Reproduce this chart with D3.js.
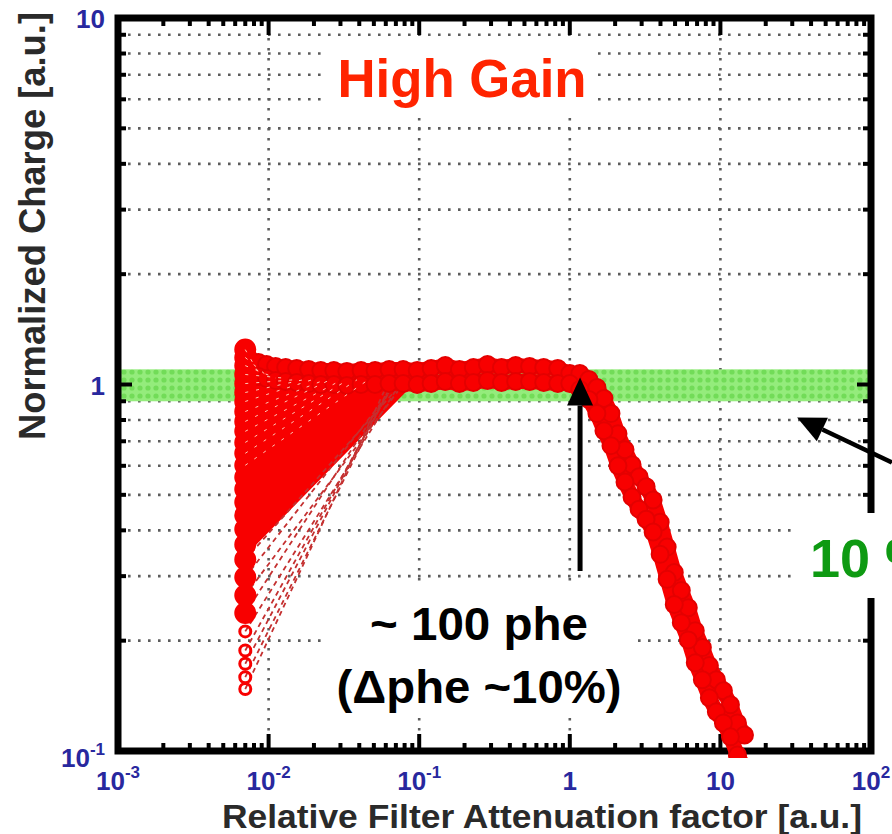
<!DOCTYPE html>
<html>
<head>
<meta charset="utf-8">
<script src="https://cdn.jsdelivr.net/npm/d3@7"></script>
<style>
html, body { margin: 0; padding: 0; background: #fff; }
svg { display: block; font-family: "Liberation Sans", Arial, Helvetica, sans-serif; }
</style>
</head>
<body>
<svg id="chart" width="892" height="834"></svg>
<script>
// main response band (upper and lower edge of the pixel curves)
const bandX = [0.00858, 0.0097, 0.01113, 0.01298, 0.01537, 0.01848, 0.02222, 0.02712, 0.0331, 0.0411,
    0.0509, 0.0631, 0.0782, 0.097, 0.12, 0.149, 0.185, 0.229, 0.284, 0.352,
    0.437, 0.541, 0.671, 0.832, 1.0, 1.166, 1.339, 1.514, 1.686, 1.877,
    2.089, 2.326, 2.59, 2.884, 3.211, 3.575, 3.981, 4.43, 4.94, 5.5,
    6.12, 6.81, 7.59, 8.45, 9.4, 10.47, 11.66, 12.98, 14.45];
const bandHi = [1.149, 1.134, 1.120, 1.113, 1.106, 1.099, 1.092, 1.092, 1.085, 1.092,
    1.092, 1.099, 1.099, 1.092, 1.106, 1.127, 1.099, 1.113, 1.134, 1.113,
    1.127, 1.120, 1.113, 1.106, 1.072, 1.072, 1.032, 0.981, 0.916, 0.833,
    0.734, 0.664, 0.604, 0.560, 0.526, 0.484, 0.421, 0.360, 0.307, 0.274,
    0.246, 0.213, 0.1915, 0.171, 0.1565, 0.146, 0.1337, 0.1193, 0.1106];
const bandLo = [1.052, 1.039, 1.026, 1.019, 1.013, 1.006, 1.000, 1.000, 0.994, 1.000,
    1.000, 1.006, 1.006, 1.000, 1.006, 1.019, 1.006, 1.013, 1.026, 1.013,
    1.019, 1.019, 1.013, 1.006, 1.006, 0.969, 0.910, 0.833, 0.748, 0.681,
    0.600, 0.542, 0.493, 0.457, 0.429, 0.396, 0.344, 0.294, 0.251, 0.224,
    0.201, 0.174, 0.1565, 0.1397, 0.1279, 0.1193, 0.1093, 0.0975, 0.0904];

// pixels that start low at the smallest attenuation and join the plateau later
const fanColumnX = 0.0070;
const fanStartY = [1.245, 1.185, 1.126, 1.065, 1.006, 0.951, 0.899, 0.844, 0.793, 0.745,
    0.695, 0.649, 0.602, 0.558, 0.518, 0.477, 0.440, 0.403, 0.366,
    0.333, 0.298, 0.266, 0.238, 0.212, 0.188, 0.173, 0.159, 0.1476];
const fanEndX = [0.00877, 0.00991, 0.0112, 0.01285, 0.01475, 0.01692, 0.01942, 0.02228, 0.02557, 0.02934,
    0.03367, 0.03864, 0.04434, 0.05012, 0.05662, 0.06302, 0.06907, 0.07457, 0.08049,
    0.0769, 0.0723, 0.0793, 0.0701, 0.0750, 0.0690, 0.0660, 0.0670, 0.0621];
const fanEndY = [1.06, 1.05, 1.04, 1.04, 1.03, 1.03, 1.03, 1.02, 1.03, 1.02,
    1.03, 1.03, 1.02, 1.03, 1.02, 1.02, 1.03, 1.02, 1.02,
    1.01, 1.02, 1.01, 1.02, 1.01, 1.02, 1.01, 1.02, 1.01];

// +-10 % band
const okBand = [0.9, 1.1];

const xTicks = [0.001, 0.01, 0.1, 1, 10, 100];
const xTickBase = ["10", "10", "10", "1", "10", "10"];
const xTickSup = ["-3", "-2", "-1", "", "", "2"];
const yTicks = [0.1, 1, 10];
const yTickBase = ["10", "1", "10"];
const yTickSup = ["-1", "", ""];

// annotation arrows, data coordinates [x, y] tail -> tip
const arrowPhe = [[1.17, 0.31], [1.17, 1.045]];
const arrowBand = [[137.7, 0.613], [32.3, 0.813]];

const svg = d3.select("#chart");
const plot = { left: 118, right: 871, top: 18, bottom: 751 };

const x = d3.scaleLog().domain([1e-3, 1e2]).range([plot.left, plot.right]);
const y = d3.scaleLog().domain([0.1, 10]).range([plot.bottom, plot.top]);

const red = "#f80000";
const defs = svg.append("defs");

defs.append("clipPath").attr("id", "plot-clip")
    .append("rect")
    .attr("x", plot.left).attr("y", plot.top)
    .attr("width", plot.right - plot.left)
    .attr("height", plot.bottom - plot.top + 7);

const pat = defs.append("pattern")
    .attr("id", "green-dots")
    .attr("patternUnits", "userSpaceOnUse")
    .attr("width", 8).attr("height", 8);
pat.append("rect").attr("width", 8).attr("height", 8).attr("fill", "#94ec7c");
pat.append("circle").attr("cx", 4).attr("cy", 4).attr("r", 2.6).attr("fill", "#72dc58");

// grid
const grid = svg.append("g").attr("class", "grid")
    .attr("stroke", "#5c5c5c")
    .attr("stroke-width", 2.6)
    .attr("stroke-dasharray", "2.6,7.4");

grid.selectAll("line.h")
    .data(y.ticks().filter(v => v > 0.1 * 1.001 && v < 10 * 0.999))
    .join("line")
    .attr("class", "h")
    .attr("x1", plot.left).attr("x2", plot.right)
    .attr("y1", d => y(d)).attr("y2", d => y(d));

grid.selectAll("line.v")
    .data(xTicks.slice(1, -1))
    .join("line")
    .attr("class", "v")
    .attr("x1", d => x(d)).attr("x2", d => x(d))
    .attr("y1", plot.top).attr("y2", plot.bottom);

// green band
svg.append("rect")
    .attr("x", plot.left)
    .attr("y", y(okBand[1]))
    .attr("width", plot.right - plot.left)
    .attr("height", y(okBand[0]) - y(okBand[1]))
    .attr("fill", "url(#green-dots)");

// axes frame + ticks
const axes = svg.append("g").attr("class", "axes");

axes.append("rect")
    .attr("x", plot.left).attr("y", plot.top)
    .attr("width", plot.right - plot.left)
    .attr("height", plot.bottom - plot.top)
    .attr("fill", "none")
    .attr("stroke", "#000")
    .attr("stroke-width", 7);

const isDecade = v => Math.abs(Math.log10(v) - Math.round(Math.log10(v))) < 1e-6;

const yt = y.ticks();
axes.selectAll("line.yl")
    .data(yt)
    .join("line")
    .attr("class", "yl")
    .attr("x1", plot.left).attr("x2", d => plot.left + (isDecade(d) ? 14 : 8))
    .attr("y1", d => y(d)).attr("y2", d => y(d))
    .attr("stroke", "#000").attr("stroke-width", 4);

axes.selectAll("line.yr")
    .data(yt)
    .join("line")
    .attr("class", "yr")
    .attr("x1", plot.right).attr("x2", d => plot.right - (isDecade(d) ? 14 : 8))
    .attr("y1", d => y(d)).attr("y2", d => y(d))
    .attr("stroke", "#000").attr("stroke-width", 4);

const xt = x.ticks();
axes.selectAll("line.xb")
    .data(xt)
    .join("line")
    .attr("class", "xb")
    .attr("x1", d => x(d)).attr("x2", d => x(d))
    .attr("y1", plot.bottom).attr("y2", d => plot.bottom - (isDecade(d) ? 17 : 8))
    .attr("stroke", "#000").attr("stroke-width", 4);

axes.selectAll("line.xt")
    .data(xt)
    .join("line")
    .attr("class", "xt")
    .attr("x1", d => x(d)).attr("x2", d => x(d))
    .attr("y1", plot.top).attr("y2", d => plot.top + (isDecade(d) ? 17 : 8))
    .attr("stroke", "#000").attr("stroke-width", 4);

// tick labels
const tickColor = "#28289e";

const xl = svg.append("g")
    .attr("font-weight", "bold").attr("font-size", 26)
    .attr("fill", tickColor).attr("text-anchor", "middle");

xTicks.forEach((v, i) => {
    const t = xl.append("text").attr("x", x(v)).attr("y", 790);
    t.append("tspan").text(xTickBase[i]);
    if (xTickSup[i])
        t.append("tspan").attr("font-size", 17).attr("dy", -12).text(xTickSup[i]);
});

const yl = svg.append("g")
    .attr("font-weight", "bold").attr("font-size", 26)
    .attr("fill", tickColor).attr("text-anchor", "end");

yTicks.forEach((v, i) => {
    const t = yl.append("text").attr("x", 105).attr("y", y(v) + (yTickSup[i] ? 16 : 10));
    t.append("tspan").text(yTickBase[i]);
    if (yTickSup[i])
        t.append("tspan").attr("font-size", 17).attr("dy", -12).text(yTickSup[i]);
});

// axis titles
svg.append("text")
    .attr("transform", "translate(45,226) rotate(-90)")
    .attr("text-anchor", "middle")
    .attr("font-weight", "bold").attr("font-size", 36)
    .attr("fill", "#2a2a2a")
    .attr("textLength", 428).attr("lengthAdjust", "spacingAndGlyphs")
    .text("Normalized Charge [a.u.]");

svg.append("text")
    .attr("x", 542).attr("y", 828)
    .attr("text-anchor", "middle")
    .attr("font-weight", "bold").attr("font-size", 34)
    .attr("fill", "#2a2a2a")
    .attr("textLength", 640).attr("lengthAdjust", "spacingAndGlyphs")
    .text("Relative Filter Attenuation factor [a.u.]");

// data
const plotData = svg.append("g").attr("clip-path", "url(#plot-clip)");

const fan = fanStartY.map((s, i) => [[fanColumnX, s], [fanEndX[i], fanEndY[i]]]);
const denseFloor = 0.36;
const filledFloor = 0.22;
const paleFloor = 0.6;
const dense = fan.filter(d => d[0][1] > denseFloor);
const sparse = fan.filter(d => d[0][1] <= denseFloor);

const toPath = d3.line().x(d => x(d[0])).y(d => y(d[1]));

// densely packed markers between column and plateau, drawn as a wide trail
dense.forEach(seg => {
    plotData.append("path")
        .attr("d", toPath(seg))
        .attr("fill", "none")
        .attr("stroke", red)
        .attr("stroke-width", 16)
        .attr("stroke-linecap", "round");
});

sparse.forEach(seg => {
    plotData.append("path")
        .attr("d", toPath(seg))
        .attr("fill", "none")
        .attr("stroke", "#c43030")
        .attr("stroke-width", 1.8)
        .attr("stroke-dasharray", "5,4");
});

const bandHiPts = bandX.map((v, i) => [v, bandHi[i]]);
const bandLoPts = bandX.map((v, i) => [v, bandLo[i]]);

[bandHiPts, bandLoPts].forEach(pts => {
    plotData.append("path")
        .attr("d", toPath(pts))
        .attr("fill", "none")
        .attr("stroke", red)
        .attr("stroke-width", 15)
        .attr("stroke-linejoin", "round")
        .attr("stroke-linecap", "round");
});

plotData.selectAll("circle.band")
    .data(bandHiPts.concat(bandLoPts))
    .join("circle")
    .attr("class", "band")
    .attr("cx", d => x(d[0])).attr("cy", d => y(d[1]))
    .attr("r", 8.5)
    .attr("fill", red).attr("stroke", "#e40000").attr("stroke-width", 2);

plotData.selectAll("circle.col")
    .data(fan)
    .join("circle")
    .attr("class", "col")
    .attr("cx", d => x(d[0][0])).attr("cy", d => y(d[0][1]))
    .attr("r", d => d[0][1] > filledFloor ? 9.5 : 5.5)
    .attr("fill", d => d[0][1] > filledFloor ? red : "none")
    .attr("stroke", red).attr("stroke-width", 3);

// faint dashes of the connecting lines, seen through the dense markers
fan.filter(d => d[0][1] > paleFloor).forEach(seg => {
    plotData.append("path")
        .attr("d", toPath(seg))
        .attr("fill", "none")
        .attr("stroke", "#ffc8b8")
        .attr("stroke-width", 1)
        .attr("stroke-dasharray", "3,8");
});

// annotations
const notes = svg.append("g");

notes.append("rect").attr("x", 323).attr("y", 38).attr("width", 275).attr("height", 80).attr("fill", "#fff");
notes.append("text")
    .attr("x", 462).attr("y", 97).attr("text-anchor", "middle")
    .attr("font-weight", "bold").attr("font-size", 53).attr("fill", "#ff2400")
    .attr("textLength", 249).attr("lengthAdjust", "spacingAndGlyphs")
    .text("High Gain");

notes.append("rect").attr("x", 323).attr("y", 583).attr("width", 310).attr("height", 134).attr("fill", "#fff");
notes.append("text")
    .attr("x", 479).attr("y", 640).attr("text-anchor", "middle")
    .attr("font-weight", "bold").attr("font-size", 46).attr("fill", "#000")
    .attr("textLength", 218).attr("lengthAdjust", "spacingAndGlyphs")
    .text("~ 100 phe");
notes.append("text")
    .attr("x", 479).attr("y", 703).attr("text-anchor", "middle")
    .attr("font-weight", "bold").attr("font-size", 46).attr("fill", "#000")
    .attr("textLength", 285).attr("lengthAdjust", "spacingAndGlyphs")
    .text("(Δphe ~10%)");

notes.append("rect").attr("x", 793).attr("y", 513).attr("width", 99).attr("height", 85).attr("fill", "#fff");
notes.append("text")
    .attr("x", 810).attr("y", 577)
    .attr("font-weight", "bold").attr("font-size", 54).attr("fill", "#0e9a12")
    .text("10 %");

function arrow(pts, width) 
{
    const [tx, ty] = [x(pts[0][0]), y(pts[0][1])];
    const [hx, hy] = [x(pts[1][0]), y(pts[1][1])];
    const len = Math.hypot(tx - hx, ty - hy);
    const ux = (tx - hx) / len, uy = (ty - hy) / len;
    const headLen = 28, headW = 13;
    const bx = hx + ux * headLen, by = hy + uy * headLen;

    notes.append("line")
        .attr("x1", tx).attr("y1", ty).attr("x2", bx).attr("y2", by)
        .attr("stroke", "#000").attr("stroke-width", width);
    notes.append("polygon")
        .attr("points", [[hx, hy], [bx - uy * headW, by + ux * headW], [bx + uy * headW, by - ux * headW]].map(p => p.join(",")).join(" "))
        .attr("fill", "#000");
}

arrow(arrowPhe, 5);
arrow(arrowBand, 4.5);
</script>
</body>
</html>
